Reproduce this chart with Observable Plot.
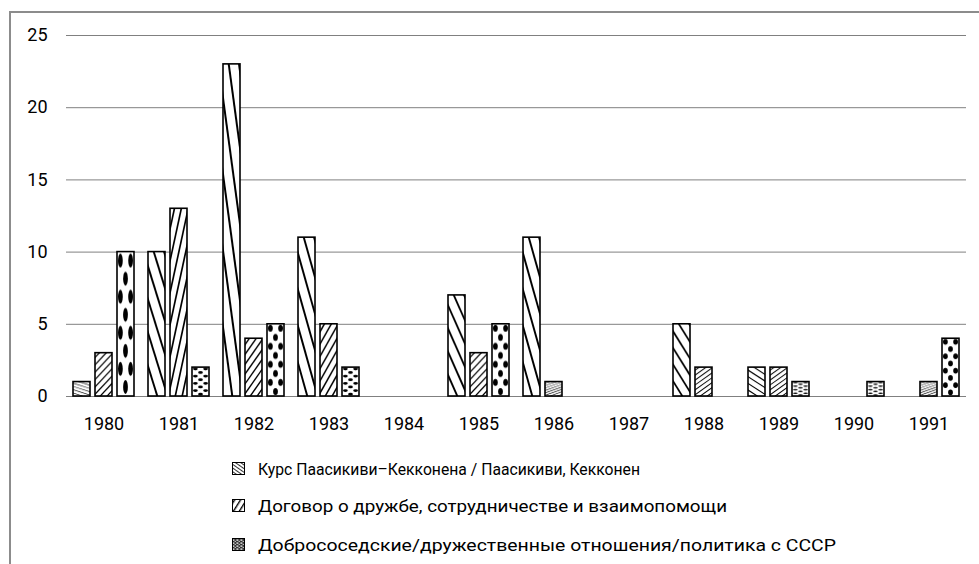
<!DOCTYPE html>
<html><head><meta charset="utf-8">
<script src="https://cdn.jsdelivr.net/npm/d3@7"></script>
<script src="https://cdn.jsdelivr.net/npm/@observablehq/plot@0.6"></script>
<style>
html,body{margin:0;padding:0;background:#fff;}
body{width:979px;height:564px;overflow:hidden;position:relative;font-family:Roboto,sans-serif;}
#frame{position:absolute;left:9px;top:11px;width:1000px;height:600px;border-left:2px solid #8c8c8c;border-top:2px solid #8c8c8c;}
#chart{position:absolute;left:0;top:0;}
#legend{position:absolute;left:0;top:440px;}
</style></head>
<body>
<svg id="defs" width="0" height="0" style="position:absolute;left:0;top:0"></svg>
<div id="frame"></div>
<div id="chart"></div>
<svg id="legend" width="979" height="124"></svg>
<script>
const years = ["1980","1981","1982","1983","1984","1985","1986","1987","1988","1989","1990","1991"];
const seriesNames = [
  "Курс Паасикиви–Кекконена / Паасикиви, Кекконен",
  "Договор о дружбе, сотрудничестве и взаимопомощи",
  "Добрососедские/дружественные отношения/политика с СССР"
];
const kurs    = [1, 10, 23, 11, 0, 7, 11, 0, 5, 2, 0, 0];
const dogovor = [3, 13, 4, 5, 0, 3, 1, 0, 2, 2, 0, 1];
const dobro   = [10, 2, 5, 2, 0, 5, 0, 0, 0, 1, 1, 4];
const yTicks  = [0, 5, 10, 15, 20, 25];
const patternIds = ["pKurs", "pDogovor", "pDobro"];

// patterns stretched over each bar (like the picture fill of the original)
const defs = d3.select("#defs").append("defs");
function bboxPattern(id) {
  const p = defs.append("pattern").attr("id", id)
    .attr("patternUnits", "objectBoundingBox").attr("patternContentUnits", "objectBoundingBox")
    .attr("width", 1).attr("height", 1);
  p.append("rect").attr("width", 1).attr("height", 1).attr("fill", "#fff");
  return p;
}
function stripes(id, dir, s, step, t) {
  const p = bboxPattern(id);
  for (let c = -s - step; c <= 1 + s + step; c += step) {
    const pts = dir > 0
      ? [[0, c], [1, c + s], [1, c + s + t], [0, c + t]]
      : [[0, c], [1, c - s], [1, c - s + t], [0, c + t]];
    p.append("polygon").attr("points", pts.map(d => d.join(",")).join(" ")).attr("fill", "#000");
  }
}
stripes(patternIds[0], 1, 0.38, 0.23, 0.045);
stripes(patternIds[1], -1, 0.42, 0.17, 0.042);
{
  const p = bboxPattern(patternIds[2]);
  const rows = 8;
  for (let i = 0; i < rows; i++) {
    const cy = (i + 0.5) / rows;
    const cxs = i % 2 === 0 ? [0.2, 0.8] : [0.5];
    for (const cx of cxs) {
      p.append("ellipse").attr("cx", cx).attr("cy", cy).attr("rx", 0.14).attr("ry", 0.048).attr("fill", "#000");
    }
  }
}
// small user-space patterns for the legend swatches
{
  const a = defs.append("pattern").attr("id", "lKurs").attr("patternUnits", "userSpaceOnUse")
    .attr("width", 3).attr("height", 3).attr("patternTransform", "rotate(35)");
  a.append("rect").attr("width", 3).attr("height", 3).attr("fill", "#fff");
  a.append("rect").attr("width", 3).attr("height", 1).attr("fill", "#333");
  const b = defs.append("pattern").attr("id", "lDogovor").attr("patternUnits", "userSpaceOnUse")
    .attr("width", 5).attr("height", 5).attr("patternTransform", "rotate(-58)");
  b.append("rect").attr("width", 5).attr("height", 5).attr("fill", "#fff");
  b.append("rect").attr("width", 5).attr("height", 1.4).attr("fill", "#000");
  const c = defs.append("pattern").attr("id", "lDobro").attr("patternUnits", "userSpaceOnUse")
    .attr("width", 4).attr("height", 3);
  c.append("rect").attr("width", 4).attr("height", 3).attr("fill", "#333");
  c.append("rect").attr("x", 0.4).attr("y", 0.5).attr("width", 2).attr("height", 1.2).attr("fill", "#fff");
  c.append("rect").attr("x", 2.6).attr("y", 1.9).attr("width", 1.3).attr("height", 0.9).attr("fill", "#eee");
}
const legendPatterns = ["lKurs", "lDogovor", "lDobro"];

const data = years.flatMap((yr, i) => [
  {year: yr, series: seriesNames[0], value: kurs[i]},
  {year: yr, series: seriesNames[1], value: dogovor[i]},
  {year: yr, series: seriesNames[2], value: dobro[i]}
]);

const chart = Plot.plot({
  width: 979,
  height: 440,
  marginLeft: 62,
  marginRight: 9,
  marginTop: 35,
  marginBottom: 44,
  style: {fontFamily: "Roboto, sans-serif", fontSize: "18px", color: "#000", background: "transparent", overflow: "visible"},
  fx: {domain: years, paddingInner: 0, paddingOuter: 0, label: null, axis: "bottom", tickSize: 0, tickPadding: 21},
  x: {domain: seriesNames, paddingInner: 0.25, paddingOuter: 0.29, axis: null},
  y: {domain: [0, 25], ticks: yTicks, label: null, tickSize: 0, tickPadding: 19},
  color: {domain: seriesNames, range: patternIds.map(id => `url(#${id})`)},
  opacity: {domain: [0, 1], range: [0, 1]},
  marks: [
    Plot.ruleY(yTicks, {stroke: "#808080", strokeWidth: 1}),
    Plot.barY(data, {
      fx: "year", x: "series", y: "value", fill: "series",
      stroke: "#000", strokeWidth: 1.6,
      strokeOpacity: d => d.value > 0 ? 1 : 0
    })
  ]
});
document.getElementById("chart").appendChild(chart);

// legend (below the chart)
const rowCenters = [29, 66, 105];           // relative to legend top (440)
const rowWidths = [382, 469, 578];           // text widths
const legend = d3.select("#legend").style("font-family", "Roboto, sans-serif");
seriesNames.forEach((name, i) => {
  const cy = rowCenters[i];
  legend.append("rect").attr("x", 232.5).attr("y", cy - 6.5).attr("width", 12).attr("height", 12)
    .attr("fill", `url(#${legendPatterns[i]})`).attr("stroke", "#000").attr("stroke-width", 1);
  legend.append("text").attr("x", 258).attr("y", cy).attr("dy", "0.35em")
    .attr("font-size", 17).attr("fill", "#000")
    .attr("textLength", rowWidths[i]).attr("lengthAdjust", "spacingAndGlyphs")
    .text(name);
});
</script>
</body></html>
